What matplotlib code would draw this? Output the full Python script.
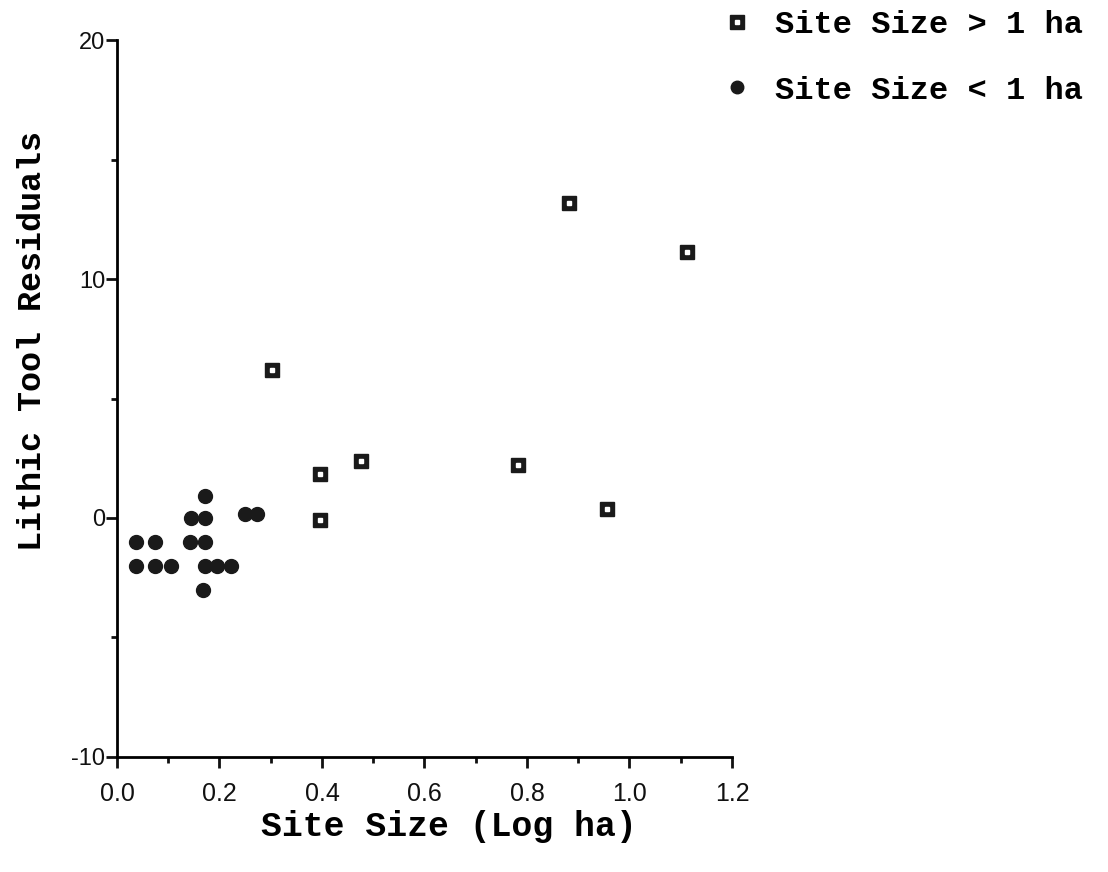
import matplotlib.pyplot as plt
from matplotlib.lines import Line2D
from matplotlib.ticker import MultipleLocator

# Sites larger than 1 ha (square markers)
big_x = [0.302, 0.397, 0.397, 0.477, 0.783, 0.882, 0.957, 1.112]
big_y = [6.2, 1.85, -0.07, 2.37, 2.2, 13.2, 0.38, 11.13]

# Sites smaller than 1 ha (dot markers)
small_x = [0.037, 0.074, 0.142, 0.172,
           0.037, 0.074, 0.105, 0.172, 0.195, 0.222,
           0.168, 0.145, 0.172, 0.172, 0.250, 0.273]
small_y = [-1, -1, -1, -1,
           -2, -2, -2, -2, -2, -2,
           -3, 0, 0, 0.9, 0.17, 0.17]

x_ticks = [0, 0.2, 0.4, 0.6, 0.8, 1.0, 1.2]
x_labels = ['0.0', '0.2', '0.4', '0.6', '0.8', '1.0', '1.2']
y_ticks = [-10, 0, 10, 20]
y_labels = ['-10', '0', '10', '20']

mono = 'Liberation Mono'
sans = 'Liberation Sans'

fig = plt.figure(figsize=(11.08, 8.72), dpi=100)
ax = fig.add_axes([0.1056, 0.1319, 0.555, 0.8222])

ax.plot(small_x, small_y, 'o', color='#1a1a1a', markersize=10, linestyle='none', clip_on=False)
ax.plot(big_x, big_y, 's', color='#1a1a1a', markersize=10, linestyle='none', clip_on=False)
ax.plot(big_x, big_y, 's', color='white', markersize=3, linestyle='none', clip_on=False)

ax.set_xlim(0, 1.2)
ax.set_ylim(-10, 20)
ax.spines['top'].set_visible(False)
ax.spines['right'].set_visible(False)
ax.spines['left'].set_linewidth(2)
ax.spines['bottom'].set_linewidth(2)

ax.xaxis.set_minor_locator(MultipleLocator(0.1))
ax.yaxis.set_minor_locator(MultipleLocator(5))
ax.tick_params(which='major', direction='out', length=8, width=2, colors='#111111')
ax.tick_params(which='minor', direction='out', length=4, width=2, colors='#111111')
ax.tick_params(axis='x', which='major', pad=10)
ax.tick_params(axis='y', which='major', pad=0.5)
ax.set_xticks(x_ticks)
ax.set_xticklabels(x_labels, fontfamily=sans, fontsize=18)
ax.set_yticks(y_ticks)
ax.set_yticklabels(y_labels, fontfamily=sans, fontsize=17)

ax.set_xlabel('Site Size (Log ha)', fontfamily=mono, fontweight='bold', fontsize=25)
ax.xaxis.set_label_coords(0.54, -0.074)
ax.set_ylabel('Lithic Tool Residuals', fontfamily=mono, fontweight='bold', fontsize=24)
ax.yaxis.set_label_coords(-0.112, 0.58)

h_big = (Line2D([], [], marker='s', color='#1a1a1a', markersize=10, linestyle='none'),
         Line2D([], [], marker='s', color='white', markersize=3, linestyle='none'))
h_small = Line2D([], [], marker='o', color='#1a1a1a', markersize=9, linestyle='none')
fig.legend([h_big, h_small], ['Site Size > 1 ha', 'Site Size < 1 ha'],
           loc='upper left', bbox_to_anchor=(0.622, 1.021), frameon=False,
           prop={'family': mono, 'weight': 'bold', 'size': 23},
           labelspacing=1.1, handletextpad=0.6, handlelength=1.2)

fig.savefig('out.png', dpi=100)
